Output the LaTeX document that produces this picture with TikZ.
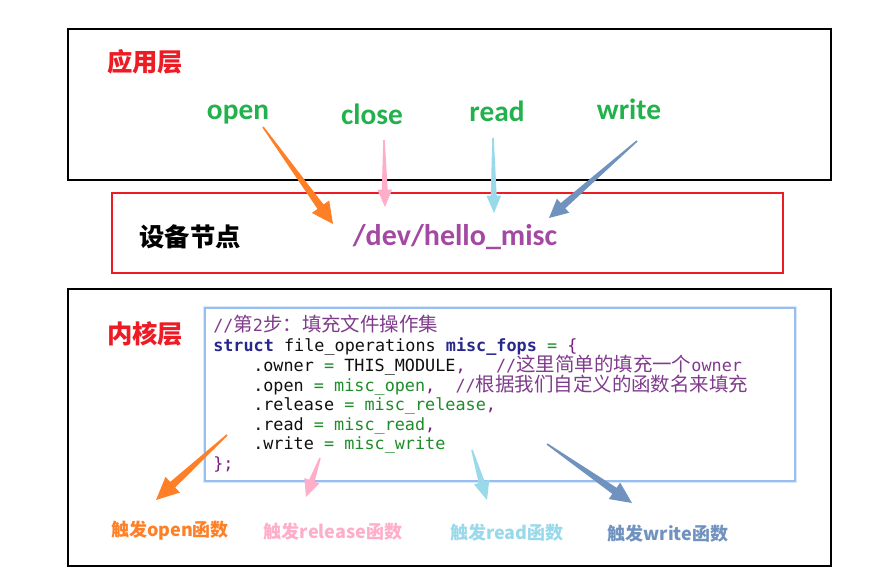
\documentclass[tikz,border=0pt]{standalone}
\usepackage{fontspec}
\usetikzlibrary{calc}
\setmainfont{Carlito}
\setmonofont{DejaVu Sans Mono}
\newfontfamily\cjk{Noto Sans CJK SC}
\definecolor{cred}{RGB}{237,28,36}
\definecolor{cgreen}{RGB}{34,177,76}
\definecolor{cpurple}{RGB}{163,73,164}
\definecolor{corange}{RGB}{255,127,39}
\definecolor{cpink}{RGB}{255,174,201}
\definecolor{clblue}{RGB}{153,217,234}
\definecolor{csteel}{RGB}{112,146,190}
\definecolor{ccomment}{RGB}{128,60,140}
\definecolor{ckw}{RGB}{40,40,140}
\definecolor{cval}{RGB}{30,140,40}
\definecolor{ctext}{RGB}{15,15,15}
\definecolor{cpunct}{RGB}{120,30,130}
\definecolor{cboxline}{RGB}{150,190,240}
\newcommand\zh[1]{{\cjk\fontsize{14.6}{15}\selectfont #1}}
\newcommand\cmt[1]{\textcolor{ccomment}{#1}}
\newcommand\gv[1]{\textcolor{cval}{#1}}
\newcommand\pu[1]{\textcolor{cpunct}{#1}}
% tapered arrow: colour, from, to, head length, head half width, shaft half width
\newcommand\tarrow[6]{%
  \coordinate (hb) at ($(#3)!#4!(#2)$);
  \fill[#1] ($(#2)!0.6pt!90:(#3)$) -- ($(hb)!#6!90:(#3)$) -- ($(hb)!#5!90:(#3)$) -- (#3)
    -- ($(hb)!#5!-90:(#3)$) -- ($(hb)!#6!-90:(#3)$) -- ($(#2)!0.6pt!-90:(#3)$) -- cycle;}
\tikzset{
  layerbox/.style={draw=black, line width=1.6pt},
  devbox/.style={draw=cred, line width=1.6pt},
  heading/.style={font=\cjk\bfseries\fontsize{19}{20}\selectfont, inner sep=0pt},
  opname/.style={font=\bfseries\fontsize{22}{24}\selectfont, text=cgreen, inner sep=0pt, anchor=base},
  trig/.style={font=\cjk\bfseries\fontsize{13.5}{15}\selectfont, inner sep=0pt},
  codeline/.style={font=\ttfamily\fontsize{12.6}{14}\selectfont, text=ctext, anchor=base west, inner sep=0pt},
}
\begin{document}
\begin{tikzpicture}[x=0.75pt,y=-0.75pt]
\useasboundingbox (0,0) rectangle (886,585);
% boxes
\draw[layerbox] (68,29) rectangle (831,180);
\draw[devbox] (112,193) rectangle (783,273);
\draw[layerbox] (68,289) rectangle (831,566);
\draw[cboxline!35, line width=3.5pt] (205,308) rectangle (795,481);
\fill[white] (205,308) rectangle (795,481);
\draw[cboxline, line width=1.1pt] (205,308) rectangle (795,481);
% headings
\node[heading, text=cred] (app) at (145,62) {应用层};
\node[heading, text=black] (devlabel) at (190,237) {设备节点};
\node[heading, text=cred] (kern) at (145,334) {内核层};
\node[font=\bfseries\fontsize{22.5}{26}\selectfont, text=cpurple, inner sep=0pt] (dev) at (455,237) {/dev/hello\_misc};
% operations
\node[opname] (open) at (238,119) {open};
\node[opname] (close) at (372,124) {close};
\node[opname] (read) at (497,122) {read};
\node[opname] (write) at (629,120) {write};
% code
\node[codeline] (c1) at (213,331) {\cmt{//\zh{第}2\zh{步：填充文件操作集}}};
\node[codeline] (c2) at (213,351) {\textbf{\textcolor{ckw}{struct}} file\_operations \textbf{\textcolor{ckw}{misc\_fops}} \gv{=} \pu{\{}};
\node[codeline] (c3) at (253,371) {.owner \gv{=} THIS\_MODULE\pu{,}\ \ \ \cmt{//\zh{这里简单的填充一个}owner}};
\node[codeline] (c4) at (253,391) {.open \gv{= misc\_open}\pu{,}\ \ \cmt{//\zh{根据我们自定义的函数名来填充}}};
\node[codeline] (c5) at (253,410) {.release \gv{= misc\_release}\pu{,}};
\node[codeline] (c6) at (253,430) {.read \gv{= misc\_read}\pu{,}};
\node[codeline] (c7) at (253,449) {.write \gv{= misc\_write}};
\node[codeline] (c8) at (213,469) {\pu{\};}};
% trigger labels
\node[trig, text=corange] (topen) at (170,531) {触发open函数};
\node[trig, text=cpink] (trel) at (333,532) {触发release函数};
\node[trig, text=clblue] (tread) at (507,533) {触发read函数};
\node[trig, text=csteel] (twrite) at (668,534) {触发write函数};
% arrow end points
\coordinate (a1s) at (263,127); \coordinate (a1e) at (333,224);
\coordinate (a2s) at (384,140); \coordinate (a2e) at (385,207);
\coordinate (a3s) at (493,138); \coordinate (a3e) at (494,213);
\coordinate (a4s) at (637,141); \coordinate (a4e) at (549,218);
\coordinate (b1s) at (227,435); \coordinate (b1e) at (156,500);
\coordinate (b2s) at (320,458); \coordinate (b2e) at (306,497);
\coordinate (b3s) at (472,450); \coordinate (b3e) at (487,500);
\coordinate (b4s) at (547,444); \coordinate (b4e) at (632,503);
\tarrow{corange}{a1s}{a1e}{16pt}{8pt}{2.8pt}
\tarrow{cpink}{a2s}{a2e}{13pt}{5.5pt}{2.2pt}
\tarrow{clblue}{a3s}{a3e}{13pt}{5.5pt}{2.2pt}
\tarrow{csteel}{a4s}{a4e}{14pt}{7pt}{2.6pt}
\tarrow{corange}{b1s}{b1e}{17pt}{8pt}{2.8pt}
\tarrow{cpink}{b2s}{b2e}{13pt}{6pt}{2.2pt}
\tarrow{clblue}{b3s}{b3e}{14pt}{6pt}{2.3pt}
\tarrow{csteel}{b4s}{b4e}{16pt}{7.5pt}{2.8pt}
\end{tikzpicture}
\end{document}
